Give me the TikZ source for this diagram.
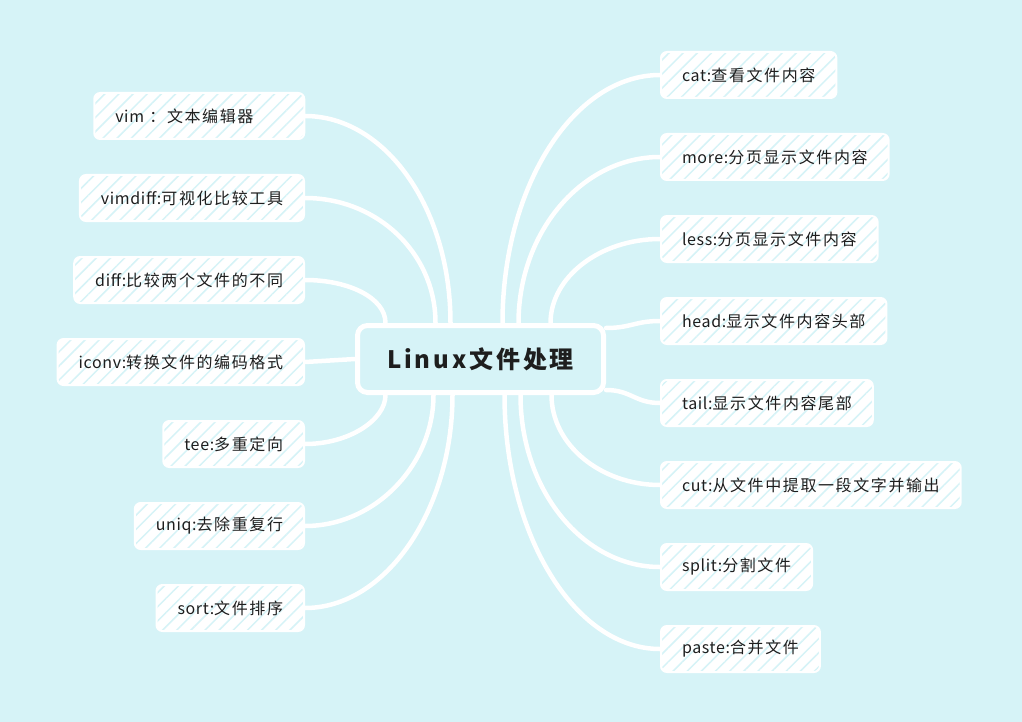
\documentclass[tikz,border=0pt]{standalone}
\usepackage{fontspec}
\setmainfont{Noto Sans CJK SC}[LetterSpace=4]
\newfontfamily\zhfont{Noto Sans CJK SC}[LetterSpace=10]
\newfontfamily\rootfont{Noto Sans CJK SC}[LetterSpace=12]
\newcommand\zh[1]{{\zhfont#1}}
\usetikzlibrary{patterns.meta}

\definecolor{bgc}{RGB}{214,243,247}
\definecolor{ink}{RGB}{30,30,30}

\tikzset{
  leaf/.style={draw=white, line width=2pt, rounded corners=6pt,
    preaction={fill=white},
    pattern={Lines[angle=45,distance=10pt,line width=1.5pt]}, pattern color=bgc,
    minimum height=46pt, inner xsep=21pt, text=ink,
    font=\fontsize{16}{18}\selectfont},
  leafL/.style={leaf, anchor=east},
  leafR/.style={leaf, anchor=west},
  root/.style={draw=white, line width=5pt, fill=bgc, rounded corners=10pt,
    minimum width=246pt, minimum height=67pt, text=ink,
    font=\fontsize{24}{28}\rootfont\bfseries},
  link/.style={white, line width=4.5pt, line cap=round},
}

\begin{document}
\begin{tikzpicture}[x=1pt, y=-1pt]
  \fill[bgc] (0,0) rectangle (1022,722);

  \node[root] (root) at (480.5,359) {Linux文件处理};

  % left branches
  \node[leafL, text width=168pt, align=left] (vim) at (305,116) {vim \zh{：文本编辑器}};
  \node[leafL] (vimdiff) at (305,198) {vimdiff:\zh{可视化比较工具}};
  \node[leafL] (diff) at (305,280) {diff:\zh{比较两个文件的不同}};
  \node[leafL] (iconv) at (305,362) {iconv:\zh{转换文件的编码格式}};
  \node[leafL] (tee) at (305,444) {tee:\zh{多重定向}};
  \node[leafL] (uniq) at (305,526) {uniq:\zh{去除重复行}};
  \node[leafL] (sort) at (305,608) {sort:\zh{文件排序}};

  % right branches
  \node[leafR] (cat) at (660,75) {cat:\zh{查看文件内容}};
  \node[leafR] (more) at (660,157) {more:\zh{分页显示文件内容}};
  \node[leafR] (less) at (660,239) {less:\zh{分页显示文件内容}};
  \node[leafR] (head) at (660,321) {head:\zh{显示文件内容头部}};
  \node[leafR] (tail) at (660,403) {tail:\zh{显示文件内容尾部}};
  \node[leafR] (cut) at (660,485) {cut:\zh{从文件中提取一段文字并输出}};
  \node[leafR] (split) at (660,567) {split:\zh{分割文件}};
  \node[leafR] (paste) at (660,649) {paste:\zh{合并文件}};

  \draw[link] ([xshift=-30pt]root.north) .. controls +(0,-115) and +(80,0) .. (vim.east);
  \draw[link] ([xshift=-45pt]root.north) .. controls +(0,-70) and +(72,0) .. (vimdiff.east);
  \draw[link] ([xshift=-95pt]root.north) .. controls +(0,-25) and +(44,0) .. (diff.east);
  \draw[link] (root.west) -- (iconv.east);
  \draw[link] ([xshift=-95pt]root.south) .. controls +(0,25) and +(44,0) .. (tee.east);
  \draw[link] ([xshift=-47pt]root.south) .. controls +(0,70) and +(70,0) .. (uniq.east);
  \draw[link] ([xshift=-28pt]root.south) .. controls +(0,115) and +(81,0) .. (sort.east);

  \draw[link] ([xshift=22pt]root.north) .. controls +(0,-137) and +(-86,0) .. (cat.west);
  \draw[link] ([xshift=38pt]root.north) .. controls +(0,-91) and +(-78,0) .. (more.west);
  \draw[link] ([xshift=70pt]root.north) .. controls +(0,-46) and +(-60,0) .. (less.west);
  \draw[link] ([yshift=31pt]root.east) .. controls +(25,0) and +(-25,0) .. (head.west);
  \draw[link] ([yshift=-31pt]root.east) .. controls +(25,0) and +(-25,0) .. (tail.west);
  \draw[link] ([xshift=71pt]root.south) .. controls +(0,50) and +(-59,0) .. (cut.west);
  \draw[link] ([xshift=40pt]root.south) .. controls +(0,95) and +(-77,0) .. (split.west);
  \draw[link] ([xshift=24pt]root.south) .. controls +(0,140) and +(-85,0) .. (paste.west);
\end{tikzpicture}
\end{document}
